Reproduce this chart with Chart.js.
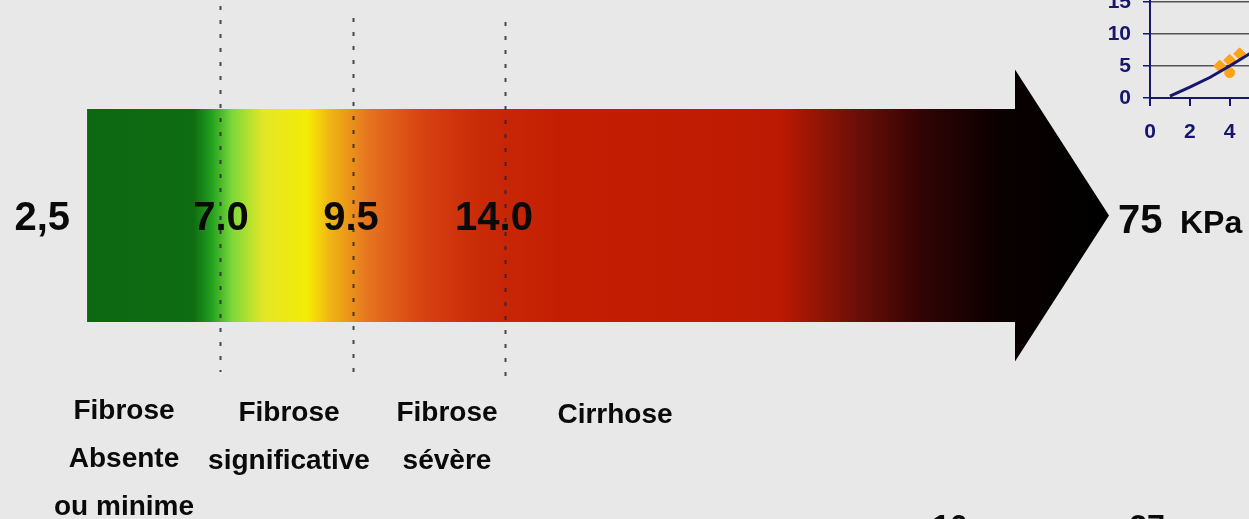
<!DOCTYPE html>
<html>
<head>
<meta charset="utf-8">
<script src="https://cdn.jsdelivr.net/npm/chart.js@4.4.1/dist/chart.umd.min.js"></script>
<style>
    html, body { margin: 0; padding: 0; overflow: hidden; background: #e8e8e8; }
    #main { position: absolute; left: 0; top: 0; width: 1249px; height: 519px; }
    #inset { position: absolute; left: 1100px; top: -40px; width: 296px; height: 190px; }
</style>
</head>
<body>
<div id="main"><canvas id="scaleChart"></canvas></div>
<div id="inset"><canvas id="insetChart" width="296" height="190"></canvas></div>
<script>
// Elastometry scale (kPa)
const thresholds = [2.5, 7.0, 9.5, 14.0, 75];
const thresholdLabels = ['2,5', '7.0', '9.5', '14.0', '75'];
const unitLabel = 'KPa';
const stageLabels = [
    ['Fibrose', 'Absente', 'ou minime'],
    ['Fibrose', 'significative'],
    ['Fibrose', 'sévère'],
    ['Cirrhose']
];
const cutLabels = ['10', '27'];

// Inset chart (cropped in the corner of the scan)
const trendX = [1, 2, 3, 4, 5, 6];
const trendY = [0.3, 1.7, 3.2, 5.0, 6.9, 8.8];
const pointsX = [3.5, 4.0, 4.5, 4.0];
const pointsY = [5.0, 5.9, 6.9, 3.95];

// Layout of the schematic axis: where each threshold sits along the width
const axisStops = [0.0697, 0.1761, 0.2826, 0.4043, 0.8879];
const stageX = [124, 289, 447, 615];
const stageBaseline = [419, 421, 421, 423];
const dotTop = [6, 18, 22];
const dotBottom = [372, 380, 384];
const labelNudge = [0, 1, -2, -11];

// Piecewise scale: thresholds are placed on the drawing, not proportionally
class StageScale extends Chart.LinearScale {
    getPixelForValue(value) {
        let i = 0;
        while (i < thresholds.length - 2 && value > thresholds[i + 1]) i++;
        const t = (value - thresholds[i]) / (thresholds[i + 1] - thresholds[i]);
        return this.getPixelForDecimal(axisStops[i] + t * (axisStops[i + 1] - axisStops[i]));
    }
}
StageScale.id = 'stage';
StageScale.defaults = Chart.LinearScale.defaults;
Chart.register(StageScale);

const FONT = "'Liberation Sans', Arial, sans-serif";

// Gradient along the arrow, as fractions of its length
const colorStops = [
    [0.000, '#0c6912'], [0.104, '#0e6c12'], [0.122, '#22a01e'], [0.142, '#7ed83a'],
    [0.172, '#e2e626'], [0.216, '#f4ec04'], [0.236, '#f0b812'], [0.275, '#e67420'],
    [0.325, '#d84412'], [0.385, '#c82a08'], [0.463, '#c41e02'], [0.678, '#bc1a02'],
    [0.745, '#741008'], [0.815, '#320404'], [0.893, '#0a0000'], [1.000, '#000000']
];

function arrowGradient(context) {
    const chart = context.chart;
    if (!chart.chartArea) return '#c41e02';
    const x = chart.scales.x;
    const x0 = x.getPixelForValue(thresholds[0]);
    const x1 = x.getPixelForValue(thresholds[thresholds.length - 1]);
    const g = chart.ctx.createLinearGradient(x0, 0, x1, 0);
    colorStops.forEach(s => g.addColorStop(s[0], s[1]));
    return g;
}

// Clip the bar to an arrow shape
const arrowClip = {
    id: 'arrowClip',
    beforeDatasetsDraw(chart) {
        const bar = chart.getDatasetMeta(0).data[0];
        if (!bar) return;
        const ctx = chart.ctx;
        const x0 = bar.base, tip = bar.x, cy = bar.y;
        const headLen = 94, bodyHalf = 106.5, headHalf = 146;
        const xb = tip - headLen;
        ctx.save();
        ctx.beginPath();
        ctx.moveTo(x0, cy - bodyHalf);
        ctx.lineTo(xb, cy - bodyHalf);
        ctx.lineTo(xb, cy - headHalf);
        ctx.lineTo(tip, cy);
        ctx.lineTo(xb, cy + headHalf);
        ctx.lineTo(xb, cy + bodyHalf);
        ctx.lineTo(x0, cy + bodyHalf);
        ctx.closePath();
        ctx.clip();
    },
    afterDatasetsDraw(chart) {
        chart.ctx.restore();
    }
};

// Dotted threshold lines and all the text
const annotations = {
    id: 'annotations',
    afterDraw(chart) {
        const ctx = chart.ctx;
        const x = chart.scales.x;
        const bar = chart.getDatasetMeta(0).data[0];
        const cy = bar.y;

        ctx.save();
        ctx.strokeStyle = 'rgba(40, 40, 55, 0.85)';
        ctx.lineWidth = 2;
        ctx.setLineDash([4, 10]);
        for (let i = 1; i < thresholds.length - 1; i++) {
            const px = Math.round(x.getPixelForValue(thresholds[i])) + 0.5;
            ctx.beginPath();
            ctx.moveTo(px, dotTop[i - 1]);
            ctx.lineTo(px, dotBottom[i - 1]);
            ctx.stroke();
        }
        ctx.setLineDash([]);

        ctx.fillStyle = '#0a0a0a';
        ctx.textBaseline = 'alphabetic';
        ctx.font = 'bold 40px ' + FONT;
        const base = cy + 14;
        ctx.textAlign = 'right';
        ctx.fillText(thresholdLabels[0], x.getPixelForValue(thresholds[0]) - 17, base);
        ctx.textAlign = 'center';
        for (let i = 1; i < thresholds.length - 1; i++) {
            ctx.fillText(thresholdLabels[i], x.getPixelForValue(thresholds[i]) + labelNudge[i], base);
        }
        const tip = x.getPixelForValue(thresholds[thresholds.length - 1]);
        ctx.textAlign = 'left';
        ctx.fillText(thresholdLabels[thresholds.length - 1], tip + 9, base + 3);
        ctx.font = 'bold 32px ' + FONT;
        ctx.fillText(unitLabel, tip + 71, base + 3);

        ctx.font = 'bold 28px ' + FONT;
        ctx.textAlign = 'center';
        stageLabels.forEach((lines, i) => {
            lines.forEach((line, j) => {
                ctx.fillText(line, stageX[i], stageBaseline[i] + j * 48);
            });
        });

        ctx.font = 'bold 32px ' + FONT;
        ctx.fillText(cutLabels[0], 950, 537);
        ctx.fillText(cutLabels[1], 1147, 537);
        ctx.restore();
    }
};

new Chart(document.getElementById('scaleChart'), {
    type: 'bar',
    data: {
        labels: ['Élasticité'],
        datasets: [{
            data: [[thresholds[0], thresholds[thresholds.length - 1]]],
            backgroundColor: arrowGradient,
            borderWidth: 0,
            barThickness: 292
        }]
    },
    options: {
        indexAxis: 'y',
        responsive: true,
        maintainAspectRatio: false,
        animation: false,
        layout: { padding: { left: 0, right: 0, top: 0, bottom: 88 } },
        plugins: { legend: { display: false }, tooltip: { enabled: false } },
        scales: {
            x: { type: 'stage', display: false, min: 0, max: 80 },
            y: { display: false }
        }
    },
    plugins: [arrowClip, annotations]
});

const NAVY = '#16166c';

new Chart(document.getElementById('insetChart'), {
    type: 'scatter',
    data: {
        datasets: [
            {
                type: 'line',
                data: trendX.map((v, i) => ({ x: v, y: trendY[i] })),
                borderColor: NAVY,
                borderWidth: 3,
                pointRadius: 0,
                tension: 0
            },
            {
                data: pointsX.map((v, i) => ({ x: v, y: pointsY[i] })),
                backgroundColor: '#ffa31a',
                borderColor: '#ffa31a',
                pointStyle: ['rectRot', 'rectRot', 'rectRot', 'circle'],
                pointRadius: [6, 6, 6, 5]
            }
        ]
    },
    options: {
        responsive: false,
        animation: false,
        layout: { padding: { top: 10, left: 0, right: 0, bottom: 0 } },
        plugins: { legend: { display: false }, tooltip: { enabled: false } },
        scales: {
            x: {
                type: 'linear', min: 0, max: 12,
                afterFit: s => { s.height = 52; s.paddingLeft = 0; s.paddingRight = 0; },
                ticks: { stepSize: 2, color: NAVY, padding: 14, font: { family: FONT, size: 21, weight: 'bold' } },
                grid: { drawOnChartArea: false, tickLength: 8, tickColor: NAVY, lineWidth: 2 },
                border: { color: NAVY, width: 2 }
            },
            y: {
                min: 0, max: 20,
                afterFit: s => { s.width = 50; s.paddingTop = 0; s.paddingBottom = 0; },
                ticks: { stepSize: 5, color: NAVY, padding: 12, font: { family: FONT, size: 21, weight: 'bold' } },
                grid: { color: '#555555', lineWidth: 1.5, tickLength: 7, tickColor: NAVY },
                border: { color: NAVY, width: 2 }
            }
        }
    }
});
</script>
</body>
</html>
